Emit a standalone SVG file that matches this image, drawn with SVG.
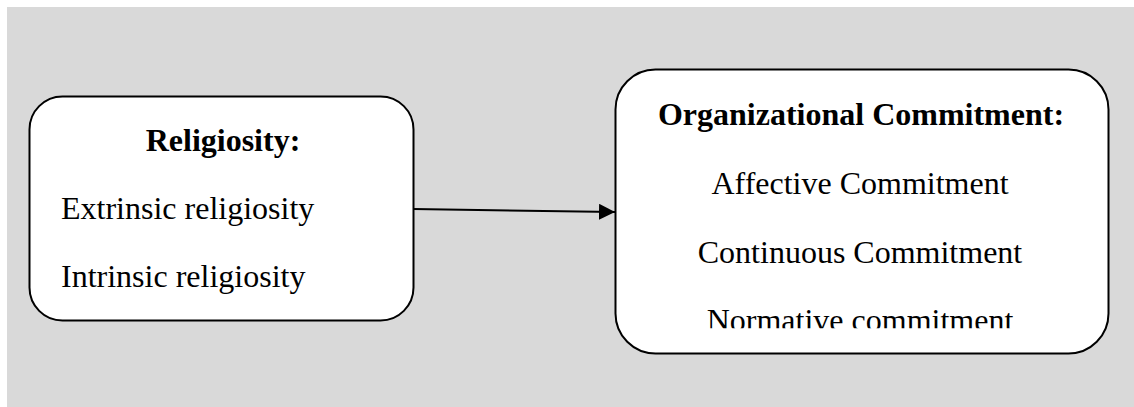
<svg xmlns="http://www.w3.org/2000/svg" width="1134" height="407" viewBox="0 0 1134 407">
<style>
.box{fill:#fff;stroke:#000;stroke-width:2}
.t{font-family:"Liberation Serif","Times New Roman",serif;font-size:32px;fill:#000;text-anchor:middle}
.b{font-weight:bold}
.l{text-anchor:start}
.conn{stroke:#000;stroke-width:2;fill:none}
</style>
<defs>
<marker id="ah" markerWidth="16" markerHeight="16" refX="16" refY="8" orient="auto" markerUnits="userSpaceOnUse">
<path d="M0,0 L16,8 L0,16 Z" fill="#000"/>
</marker>
<clipPath id="clipR"><rect x="600" y="60" width="520" height="268.3"/></clipPath>
</defs>
<rect x="0" y="0" width="1134" height="407" fill="#fff"/>
<rect x="7" y="7" width="1127" height="400" fill="#d9d9d9"/>
<g id="connectors">
<line class="conn" x1="413" y1="209" x2="615" y2="212" marker-end="url(#ah)"/>
</g>
<g id="religiosity">
<rect class="box" x="29.5" y="96.5" width="384" height="224" rx="33" ry="33"/>
<text class="t b" x="223" y="151">Religiosity:</text>
<text class="t l" x="61" y="219">Extrinsic religiosity</text>
<text class="t l" x="61" y="287">Intrinsic religiosity</text>
</g>
<g id="commitment">
<rect class="box" x="615.5" y="69.5" width="493" height="284" rx="40" ry="40"/>
<text class="t b" x="861" y="125">Organizational Commitment:</text>
<text class="t" x="860" y="194">Affective Commitment</text>
<text class="t" x="860" y="263">Continuous Commitment</text>
<text class="t" x="860" y="331" clip-path="url(#clipR)">Normative commitment</text>
</g>
</svg>
